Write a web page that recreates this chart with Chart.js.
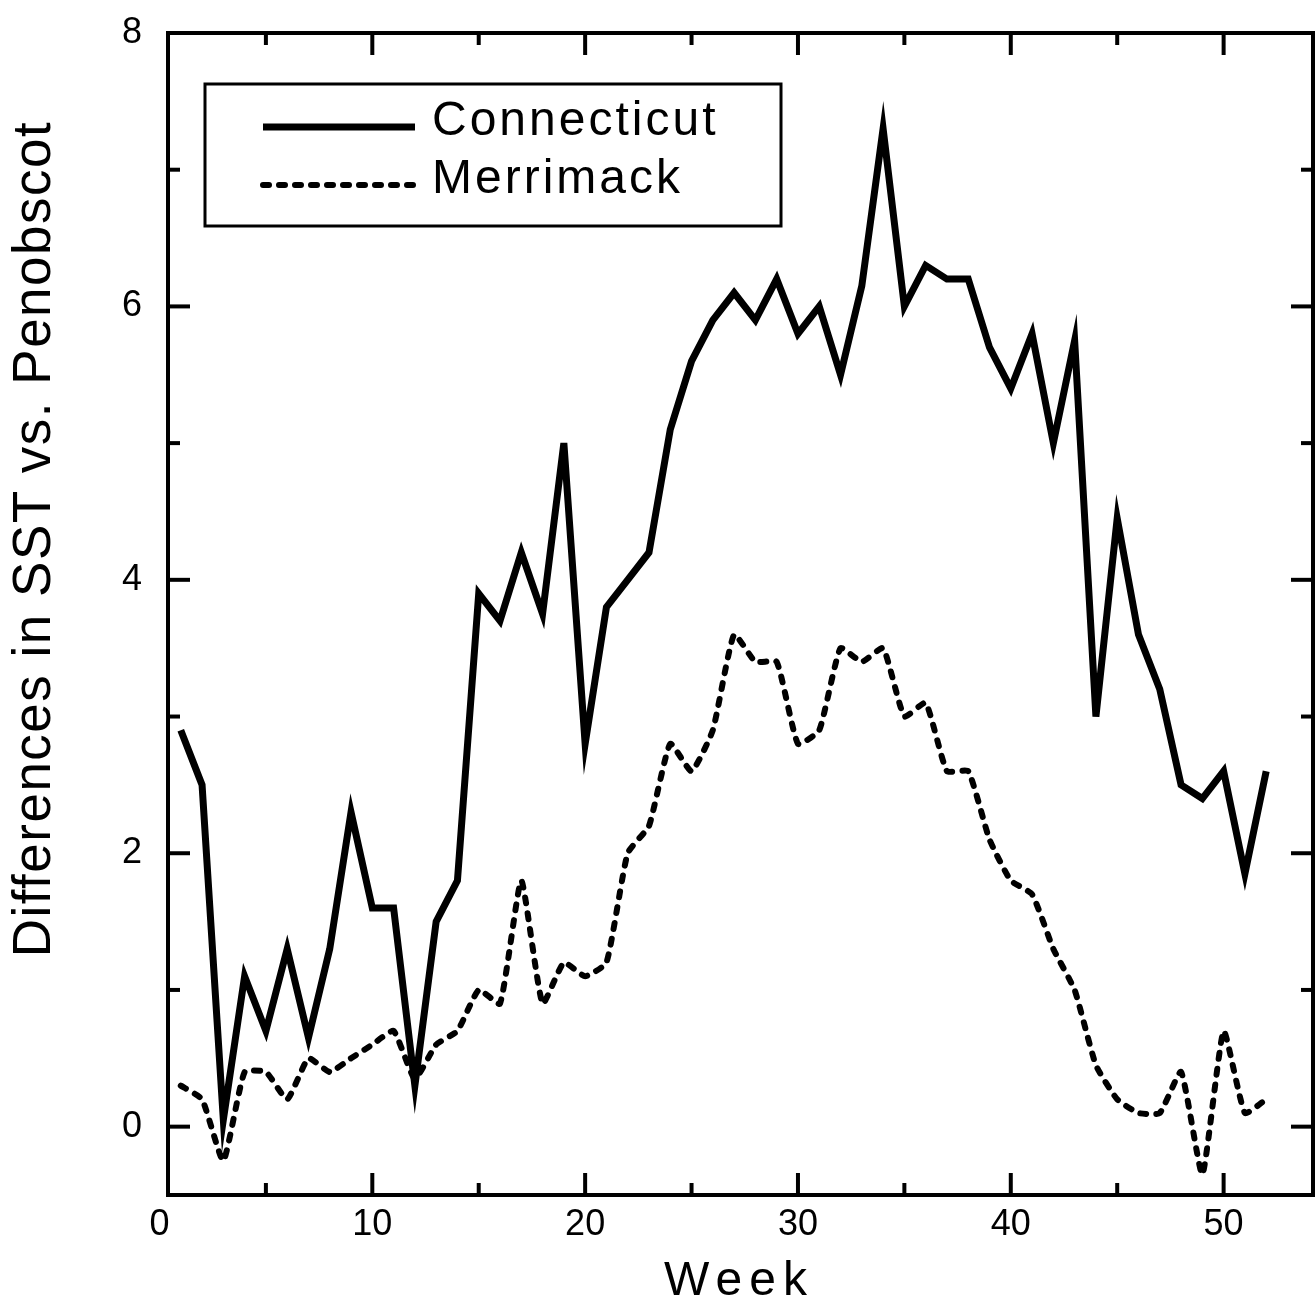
<!DOCTYPE html>
<html>
<head>
<meta charset="utf-8">
<script src="https://cdn.jsdelivr.net/npm/chart.js@4.4.0/dist/chart.umd.min.js"></script>
<style>
  html, body { margin: 0; padding: 0; background: #fff; }
  #wrap { width: 1315px; height: 1304px; }
</style>
</head>
<body>
<div id="wrap"><canvas id="sstChart" width="1315" height="1304"></canvas></div>
<script>
// weekly SST differences
const weeks = [1, 2, 3, 4, 5, 6, 7, 8, 9, 10, 11, 12, 13, 14, 15, 16, 17, 18, 19, 20, 21, 22, 23, 24, 25, 26,
  27, 28, 29, 30, 31, 32, 33, 34, 35, 36, 37, 38, 39, 40, 41, 42, 43, 44, 45, 46, 47, 48, 49, 50, 51, 52];
const connecticut = [2.9, 2.5, 0.05, 1.1, 0.7, 1.3, 0.65, 1.3, 2.3, 1.6, 1.6, 0.3, 1.5, 1.8, 3.9, 3.7, 4.2, 3.75, 5.0, 2.8, 3.8, 4.0, 4.2, 5.1, 5.6, 5.9,
  6.1, 5.9, 6.2, 5.8, 6.0, 5.5, 6.15, 7.3, 6.0, 6.3, 6.2, 6.2, 5.7, 5.4, 5.8, 5.0, 5.75, 3.0, 4.45, 3.6, 3.2, 2.5, 2.4, 2.6, 1.85, 2.6];
const merrimack = [0.3, 0.2, -0.25, 0.4, 0.4, 0.2, 0.5, 0.4, 0.5, 0.6, 0.7, 0.35, 0.6, 0.7, 1.0, 0.9, 1.8, 0.9, 1.2, 1.1, 1.2, 2.0, 2.2, 2.8, 2.6, 2.9,
  3.6, 3.4, 3.4, 2.8, 2.9, 3.5, 3.4, 3.5, 3.0, 3.1, 2.6, 2.6, 2.1, 1.8, 1.7, 1.3, 1.0, 0.45, 0.2, 0.1, 0.1, 0.4, -0.35, 0.7, 0.1, 0.2];
const xTicks = [0, 10, 20, 30, 40, 50];
const yTicks = [0, 2, 4, 6, 8];

const FONT = '"Liberation Sans", Arial, sans-serif';

// frame with inward ticks on all four sides, legend box and axis titles
const framePlugin = {
  id: 'frame',
  afterDraw(chart) {
    const { ctx, chartArea: a, scales: { x, y } } = chart;
    ctx.save();
    ctx.strokeStyle = '#000';
    ctx.fillStyle = '#000';
    ctx.lineWidth = 4;
    ctx.strokeRect(a.left, a.top, a.right - a.left, a.bottom - a.top);

    const seg = (x1, y1, x2, y2) => {
      ctx.beginPath(); ctx.moveTo(x1, y1); ctx.lineTo(x2, y2); ctx.stroke();
    };
    for (let v = 5; v <= x.max; v += 5) {
      const px = x.getPixelForValue(v);
      const len = v % 10 === 0 ? 22 : 12;
      seg(px, a.bottom, px, a.bottom - len);
      seg(px, a.top, px, a.top + len);
    }
    for (let v = 0; v <= y.max; v += 1) {
      const py = y.getPixelForValue(v);
      const len = v % 2 === 0 ? 22 : 12;
      seg(a.left, py, a.left + len, py);
      seg(a.right, py, a.right - len, py);
    }

    // legend
    const box = { left: 205, top: 84, right: 781, bottom: 226 };
    ctx.lineWidth = 3;
    ctx.strokeRect(box.left, box.top, box.right - box.left, box.bottom - box.top);
    ctx.font = '48px ' + FONT;
    ctx.textAlign = 'left';
    ctx.textBaseline = 'middle';
    ctx.letterSpacing = '3px';
    chart.data.datasets.forEach((ds, i) => {
      const ly = 127 + i * 58;
      ctx.save();
      ctx.lineWidth = ds.borderWidth;
      ctx.lineCap = ds.borderCapStyle || 'butt';
      ctx.setLineDash(ds.borderDash || []);
      seg(263, ly, 415, ly);
      ctx.restore();
      ctx.fillText(ds.label, 432, ly - 5);
    });

    // x axis title
    ctx.font = '48px ' + FONT;
    ctx.letterSpacing = '7px';
    ctx.textAlign = 'center';
    ctx.textBaseline = 'alphabetic';
    ctx.fillText('Week', 739, 1295);

    // y axis title
    ctx.letterSpacing = '1.5px';
    ctx.translate(50, 539);
    ctx.rotate(-Math.PI / 2);
    ctx.font = '53px ' + FONT;
    ctx.fillText('Differences in SST vs. Penobscot', 0, 0);
    ctx.restore();
  }
};

new Chart(document.getElementById('sstChart').getContext('2d'), {
  type: 'line',
  data: {
    datasets: [
      {
        label: 'Connecticut',
        data: weeks.map((w, i) => ({ x: w, y: connecticut[i] })),
        borderColor: '#000',
        borderWidth: 7,
        borderJoinStyle: 'miter',
        pointRadius: 0,
        tension: 0,
        fill: false,
      },
      {
        label: 'Merrimack',
        data: weeks.map((w, i) => ({ x: w, y: merrimack[i] })),
        borderColor: '#000',
        borderWidth: 6,
        borderDash: [6, 10],
        borderCapStyle: 'round',
        borderJoinStyle: 'miter',
        pointRadius: 0,
        tension: 0.15,
        fill: false,
      },
    ],
  },
  options: {
    responsive: false,
    animation: false,
    layout: { padding: { top: 33, right: 2, left: 0, bottom: 0 } },
    plugins: { legend: { display: false }, tooltip: { enabled: false } },
    scales: {
      x: {
        type: 'linear',
        min: 0.4,
        max: 54.2,
        afterBuildTicks: (s) => { s.ticks = xTicks.map(v => ({ value: v })); },
        afterFit: (s) => { s.height = 109; s.paddingLeft = 0; s.paddingRight = 0; },
        grid: { display: false, drawTicks: false },
        border: { display: false },
        ticks: { autoSkip: false, maxRotation: 0, padding: 8, color: '#000', font: { family: FONT, size: 36 } },
      },
      y: {
        min: -0.5,
        max: 8,
        afterBuildTicks: (s) => { s.ticks = yTicks.map(v => ({ value: v })); },
        afterFit: (s) => { s.width = 168; s.paddingTop = 0; s.paddingBottom = 0; },
        grid: { display: false, drawTicks: false },
        border: { display: false },
        ticks: { autoSkip: false, padding: 26, color: '#000', font: { family: FONT, size: 36 } },
      },
    },
  },
  plugins: [framePlugin],
});
</script>
</body>
</html>
